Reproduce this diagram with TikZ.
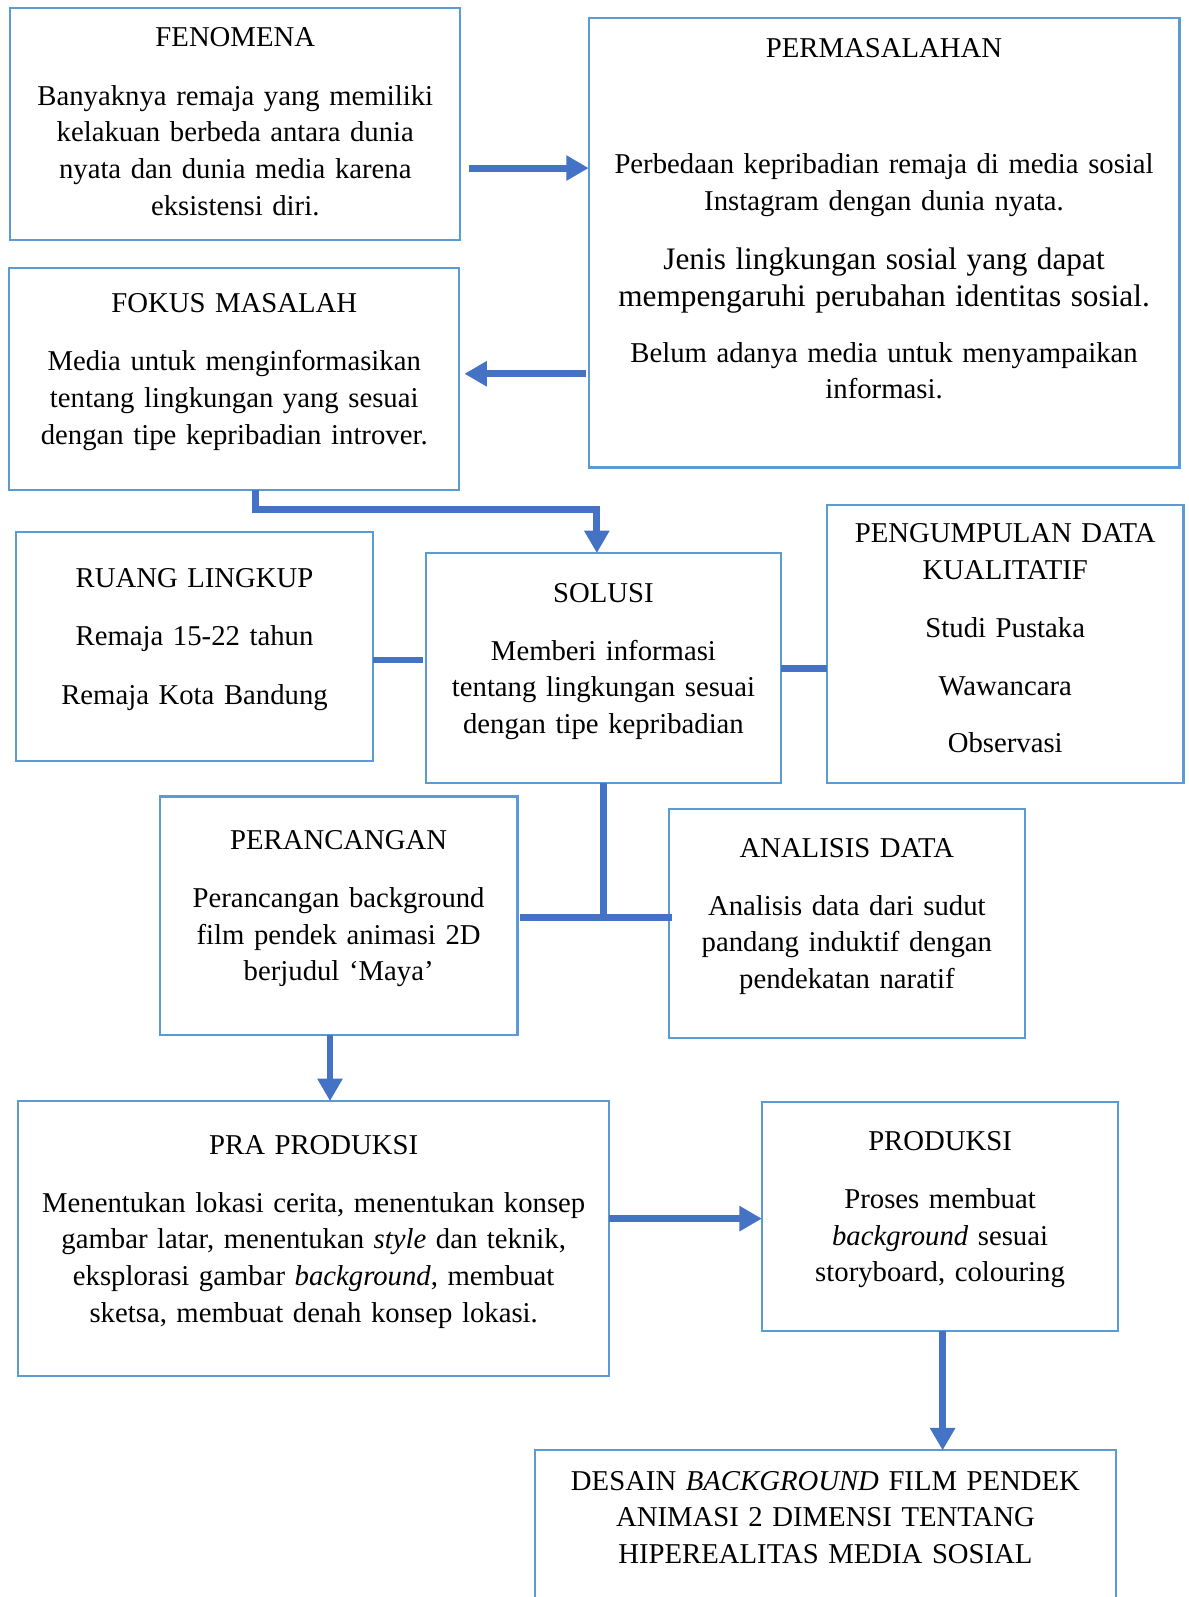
\documentclass[tikz,border=0pt]{standalone}
\usepackage{fontspec}
\setmainfont{Liberation Serif}
\usetikzlibrary{positioning,arrows.meta}

\definecolor{boxblue}{HTML}{5B9BD5}
\definecolor{linkblue}{HTML}{4472C4}
\newcommand{\tstrut}{\rule{0pt}{13.6pt}}
\newcommand{\pad}[1][14pt]{\rule[-#1]{0pt}{#1}}

\tikzset{
	box/.style={rectangle, draw=boxblue, line width=1.1pt, align=center, inner sep=0pt, outer sep=0pt, font=\fontsize{14.1}{18}\selectfont},
	link/.style={draw=linkblue, line width=3.4pt},
	arrow/.style={link, -{Triangle[length=11pt,width=11.8pt]}}
}

\begin{document}
\begin{tikzpicture}[x=0.5pt, y=-0.5pt]
	\useasboundingbox (0,0) rectangle (1167,1568);

	\node (fenomena) [box, text width=221pt, minimum height=114pt, anchor=north west] at (10,8)
	{
		\tstrut FENOMENA\\[10.5pt]
		Banyaknya remaja yang memiliki\\
		kelakuan berbeda antara dunia\\
		nyata dan dunia media karena\\
		eksistensi diri.\pad[7pt]
	};
	\node (permasalahan) [box, text width=290pt, minimum height=220.5pt, right=63pt of fenomena.north east, anchor=north west, yshift=-5pt]
	{
		\tstrut PERMASALAHAN\\[39pt]
		Perbedaan kepribadian remaja di media sosial\\
		Instagram dengan dunia nyata.\\[11pt]
		{\fontsize{15.35}{18}\selectfont Jenis lingkungan sosial yang dapat\\
		mempengaruhi perubahan identitas sosial.}\\[9.5pt]
		Belum adanya media untuk menyampaikan\\
		informasi.\pad[28pt]
	};
	\node (fokus) [box, text width=221pt, minimum height=109pt, below=13.5pt of fenomena.south west, anchor=north west, xshift=-0.5pt]
	{
		\tstrut FOKUS MASALAH\\[10.5pt]
		Media untuk menginformasikan\\
		tentang lingkungan yang sesuai\\
		dengan tipe kepribadian introver.\pad
	};
	\node (ruang) [box, text width=175pt, minimum height=112.5pt, below=20.5pt of fokus.south west, anchor=north west, xshift=3.5pt]
	{
		\tstrut RUANG LINGKUP\\[10.5pt]
		Remaja 15-22 tahun\\[11pt]
		Remaja Kota Bandung\pad
	};
	\node (solusi) [box, text width=174.5pt, minimum height=113pt, right=26pt of ruang.north east, anchor=north west, yshift=-10.5pt]
	{
		\tstrut SOLUSI\\[10.5pt]
		Memberi informasi\\
		tentang lingkungan sesuai\\
		dengan tipe kepribadian\pad
	};
	\node (pengumpulan) [box, text width=175pt, minimum height=136.5pt, right=22.5pt of solusi.north east, anchor=north west, yshift=23.5pt]
	{
		\tstrut PENGUMPULAN DATA\\
		KUALITATIF\\[10.5pt]
		Studi Pustaka\\[10.5pt]
		Wawancara\\[10pt]
		Observasi\pad[10pt]
	};
	\node (perancangan) [box, text width=175.5pt, minimum height=117pt, below=17.5pt of ruang.south west, anchor=north west, xshift=70.5pt]
	{
		\tstrut PERANCANGAN\\[10.5pt]
		Perancangan background\\
		film pendek animasi 2D\\
		berjudul ‘Maya’\pad
	};
	\node (analisis) [box, text width=174.5pt, minimum height=112.5pt, right=74.5pt of perancangan.north east, anchor=north west, yshift=-6pt]
	{
		\tstrut ANALISIS DATA\\[10.5pt]
		Analisis data dari sudut\\
		pandang induktif dengan\\
		pendekatan naratif\pad
	};
	\node (pra) [box, text width=290pt, minimum height=135pt, below=32.5pt of perancangan.south west, anchor=north west, xshift=-69.5pt]
	{
		\tstrut PRA PRODUKSI\\[10.5pt]
		Menentukan lokasi cerita, menentukan konsep\\
		gambar latar, menentukan \textit{style} dan teknik,\\
		eksplorasi gambar \textit{background}, membuat\\
		sketsa, membuat denah konsep lokasi.\pad
	};
	\node (produksi) [box, text width=175pt, minimum height=112.5pt, right=75pt of pra.north east, anchor=north west, yshift=-0.5pt]
	{
		\tstrut PRODUKSI\\[10.5pt]
		Proses membuat\\
		\textit{background} sesuai\\
		storyboard, colouring\pad
	};
	\node (desain) [box, text width=285.5pt, minimum height=75pt, below=58.5pt of produksi.south west, anchor=north west, xshift=-111.5pt]
	{
		\tstrut DESAIN \textit{BACKGROUND} FILM PENDEK\\
		ANIMASI 2 DIMENSI TENTANG\\
		HIPEREALITAS MEDIA SOSIAL\pad[13.5pt]
	};

	\draw [arrow] ([xshift=4pt,yshift=-21.5pt]fenomena.east) -- ([yshift=-21.5pt]fenomena.east -| permasalahan.west);
	\draw [arrow, shorten <=1.5pt] ([yshift=2.5pt]fokus.east -| permasalahan.west) -- ([xshift=2.5pt,yshift=2.5pt]fokus.east);
	\draw [arrow] ([xshift=10.5pt]fokus.south) -- ++(0,-9.75pt) -| ([xshift=-3.25pt]solusi.north);
	\draw [link, shorten >=1.5pt] ([yshift=-6.75pt]ruang.east) -- ([yshift=-6.75pt]ruang.east -| solusi.west);
	\draw [link] (solusi.east) -- (solusi.east -| pengumpulan.west);
	\coordinate (tee) at ([yshift=-1pt]perancangan.east -| solusi.south);
	\draw [link] (solusi.south) -- (tee);
	\draw [link] ([xshift=1.5pt]perancangan.east |- tee) -- ([xshift=1.5pt]analisis.west |- tee);
	\draw [arrow] ([xshift=-4.25pt]perancangan.south) -- ([xshift=-4.25pt]perancangan.south |- pra.north);
	\draw [arrow] ([yshift=9.75pt]pra.east) -- ([yshift=9.75pt]pra.east -| produksi.west);
	\draw [arrow] ([xshift=1.25pt]produksi.south) -- ([xshift=1.25pt]produksi.south |- desain.north);
\end{tikzpicture}
\end{document}
